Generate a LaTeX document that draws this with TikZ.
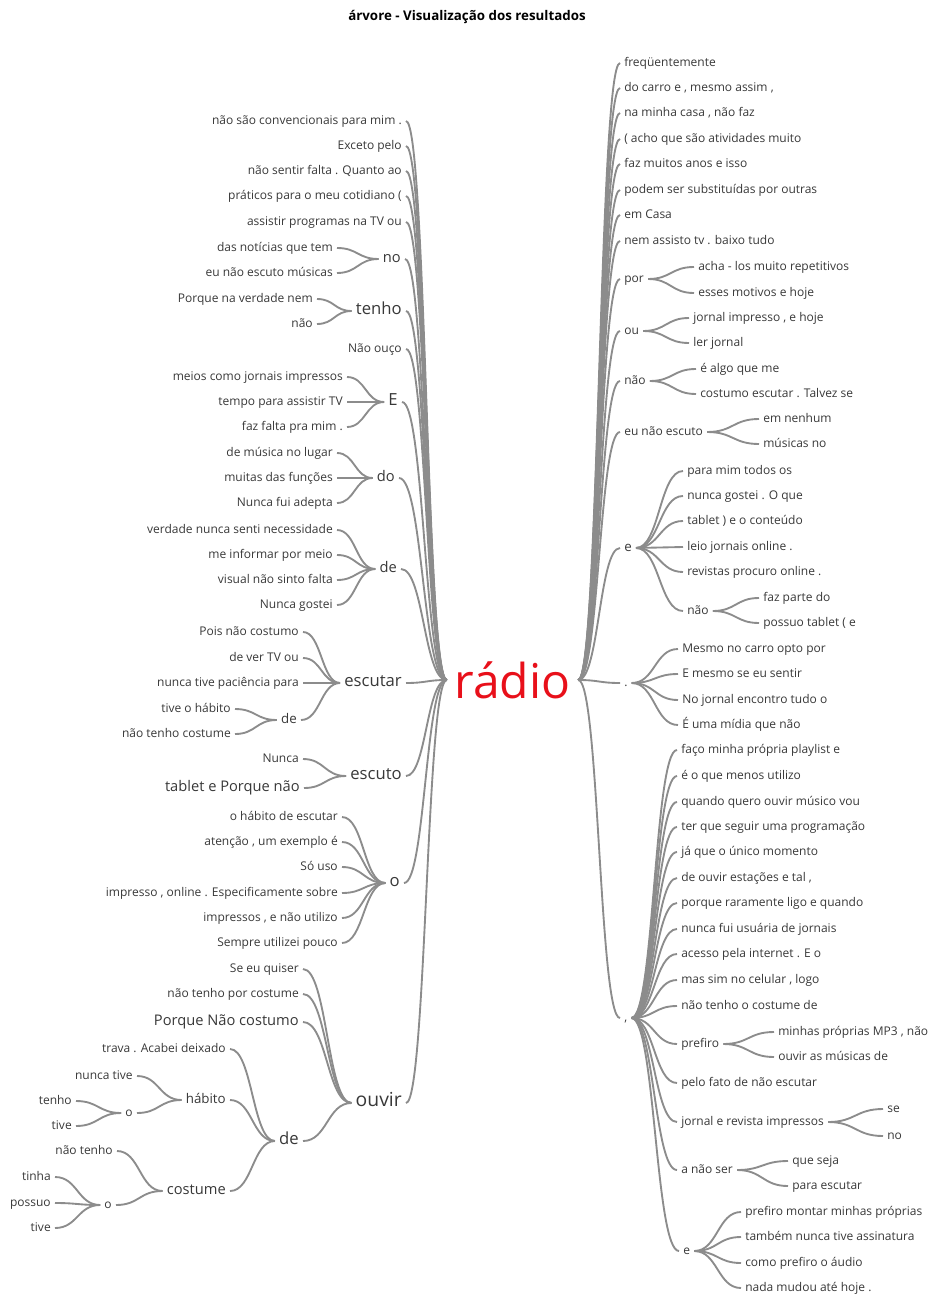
\documentclass[tikz,border=0pt]{standalone}
\usepackage{fontspec}
\setmainfont{Open Sans}
\usepackage{tikz}
\usetikzlibrary{calc}

\definecolor{wordgray}{HTML}{383838}
\definecolor{twiggray}{HTML}{8C8C8C}
\definecolor{rootred}{HTML}{E8101A}

\tikzset{
  wordL/.style={anchor=mid east, inner xsep=3pt, inner ysep=1pt,
    text=wordgray, font=\fontsize{9}{10}\selectfont},
  wordR/.style={anchor=mid west, inner xsep=3pt, inner ysep=1pt,
    text=wordgray, font=\fontsize{9}{10}\selectfont},
  size1/.style={font=\fontsize{10}{12}\selectfont},
  size2/.style={font=\fontsize{11}{13}\selectfont},
  size3/.style={font=\fontsize{12.5}{15}\selectfont},
  size4/.style={font=\fontsize{14.5}{17}\selectfont},
  rootword/.style={inner sep=0pt, minimum width=98.25pt, text=rootred,
    font=\fontsize{36}{40}\selectfont},
  branch/.style={draw=twiggray, line width=1.4pt},
}
% curve from one word to the next, flat at both ends
\newcommand{\twig}[2]{\draw[branch] let \p1=(#1), \p2=(#2) in
  (\p1) .. controls ({(\x1+\x2)/2},\y1) and ({(\x1+\x2)/2},\y2) .. (\p2);}

\begin{document}
\begin{tikzpicture}[x=0.75pt, y=-0.75pt]
  \useasboundingbox (0,0) rectangle (928,1295);

  % === Title and root ===
  \node[font=\bfseries\fontsize{10}{12}\selectfont] (title) at (467,17)
    {árvore - Visualização dos resultados};
  \node[rootword] (root) at (512.5,680) {rádio};

  % === Left side, first level ===
  \foreach \t/\y [count=\i] in {não são convencionais para mim ./121, Exceto pelo/146,
      não sentir falta . Quanto ao/171, {práticos para o meu cotidiano (}/196,
      assistir programas na TV ou/222, Não ouço/349} {
    \node[wordL] (l\i) at (406,\y) {\t};
    \twig{root.west}{l\i.mid east}
  }
  \node[wordL, size2] (lno) at (405,259) {no};
  \node[wordL, size3] (ltenho) at (406,311) {tenho};
  \node[wordL, size3] (lE) at (402,402) {E};
  \node[wordL, size2] (ldo) at (399,478) {do};
  \node[wordL, size2] (lde) at (401,569) {de};
  \node[wordL, size3] (lescutar) at (406,683) {escutar};
  \node[wordL, size3] (lescuto) at (406,776) {escuto};
  \node[wordL, size3] (lo) at (404,883) {o};
  \node[wordL, size4] (louvir) at (406,1103) {ouvir};
  \foreach \w in {lno, ltenho, lE, ldo, lde, lescutar, lescuto, lo, louvir}
    \twig{root.west}{\w.mid east};

  % === Left side, second level ===
  \foreach \t/\y [count=\i] in {das notícias que tem/248, eu não escuto músicas/273} {
    \node[wordL] (lno\i) at (337,\y) {\t};
    \twig{lno.mid west}{lno\i.mid east}
  }
  \foreach \t/\y [count=\i] in {Porque na verdade nem/299, não/324} {
    \node[wordL] (ltenho\i) at (317,\y) {\t};
    \twig{ltenho.mid west}{ltenho\i.mid east}
  }
  \foreach \t/\y [count=\i] in {meios como jornais impressos/377,
      tempo para assistir TV/402, faz falta pra mim ./427} {
    \node[wordL] (lE\i) at (347,\y) {\t};
    \twig{lE.mid west}{lE\i.mid east}
  }
  \foreach \t/\y [count=\i] in {de música no lugar/453, muitas das funções/478,
      Nunca fui adepta/503} {
    \node[wordL] (ldo\i) at (337,\y) {\t};
    \twig{ldo.mid west}{ldo\i.mid east}
  }
  \foreach \t/\y [count=\i] in {verdade nunca senti necessidade/530,
      me informar por meio/555, visual não sinto falta/580, Nunca gostei/605} {
    \node[wordL] (lde\i) at (337,\y) {\t};
    \twig{lde.mid west}{lde\i.mid east}
  }
  \foreach \t/\y [count=\i] in {Pois não costumo/632, de ver TV ou/658,
      nunca tive paciência para/683} {
    \node[wordL] (lescutar\i) at (303,\y) {\t};
    \twig{lescutar.mid west}{lescutar\i.mid east}
  }
  \node[wordL, size1] (lescde) at (301,720) {de};
  \twig{lescutar.mid west}{lescde.mid east}
  \foreach \t/\y [count=\i] in {tive o hábito/709, não tenho costume/734} {
    \node[wordL] (lescde\i) at (235,\y) {\t};
    \twig{lescde.mid west}{lescde\i.mid east}
  }
  \node[wordL] (lescuto1) at (303,759) {Nunca};
  \node[wordL, size2] (lescuto2) at (304,788) {tablet e Porque não};
  \twig{lescuto.mid west}{lescuto1.mid east}
  \twig{lescuto.mid west}{lescuto2.mid east}
  \foreach \t/\y [count=\i] in {o hábito de escutar/817, {atenção , um exemplo é}/842,
      Só uso/867, {impresso , online . Especificamente sobre}/893,
      {impressos , e não utilizo}/918, Sempre utilizei pouco/943} {
    \node[wordL] (lo\i) at (342,\y) {\t};
    \twig{lo.mid west}{lo\i.mid east}
  }

  % === Left side, under ouvir ===
  \node[wordL] (louvir1) at (303,969) {Se eu quiser};
  \node[wordL] (louvir2) at (303,994) {não tenho por costume};
  \node[wordL, size2] (louvir3) at (303,1022) {Porque Não costumo};
  \node[wordL, size3] (loude) at (303,1141) {de};
  \foreach \w in {louvir1, louvir2, louvir3, loude}
    \twig{louvir.mid west}{\w.mid east};
  \node[wordL] (loude1) at (230,1049) {trava . Acabei deixado};
  \node[wordL, size1] (lhab) at (230,1100) {hábito};
  \node[wordL, size2] (lcost) at (230,1191) {costume};
  \foreach \w in {loude1, lhab, lcost}
    \twig{loude.mid west}{\w.mid east};
  \node[wordL] (lhab1) at (137,1076) {nunca tive};
  \node[wordL] (lhabo) at (137,1113) {o};
  \twig{lhab.mid west}{lhab1.mid east}
  \twig{lhab.mid west}{lhabo.mid east}
  \foreach \t/\y [count=\i] in {tenho/1101, tive/1126} {
    \node[wordL] (lhabo\i) at (76,\y) {\t};
    \twig{lhabo.mid west}{lhabo\i.mid east}
  }
  \node[wordL] (lcost1) at (117,1151) {não tenho};
  \node[wordL] (lcosto) at (116,1205) {o};
  \twig{lcost.mid west}{lcost1.mid east}
  \twig{lcost.mid west}{lcosto.mid east}
  \foreach \t/\y [count=\i] in {tinha/1177, possuo/1203, tive/1228} {
    \node[wordL] (lcosto\i) at (55,\y) {\t};
    \twig{lcosto.mid west}{lcosto\i.mid east}
  }

  % === Right side, first level ===
  \foreach \t/\y [count=\i] in {freqüentemente/63, {do carro e , mesmo assim ,}/88,
      {na minha casa , não faz}/113, {( acho que são atividades muito}/139,
      faz muitos anos e isso/164, podem ser substituídas por outras/190,
      em Casa/215, nem assisto tv . baixo tudo/241} {
    \node[wordR] (r\i) at (620,\y) {\t};
    \twig{root.east}{r\i.mid west}
  }
  \node[wordR] (rpor) at (620,279) {por};
  \node[wordR] (rou) at (620,331) {ou};
  \node[wordR] (rnao) at (620,381) {não};
  \node[wordR] (reune) at (620,432) {eu não escuto};
  \node[wordR, size1] (re) at (620,548) {e};
  \node[wordR] (rdot) at (620,683) {.};
  \node[wordR] (rcomma) at (620,1018) {,};
  \foreach \w in {rpor, rou, rnao, reune, re, rdot, rcomma}
    \twig{root.east}{\w.mid west};

  % === Right side, second level ===
  \foreach \t/\y [count=\i] in {acha - los muito repetitivos/267, esses motivos e hoje/293} {
    \node[wordR] (rpor\i) at (694,\y) {\t};
    \twig{rpor.mid east}{rpor\i.mid west}
  }
  \foreach \t/\y [count=\i] in {{jornal impresso , e hoje}/318, ler jornal/343} {
    \node[wordR] (rou\i) at (689,\y) {\t};
    \twig{rou.mid east}{rou\i.mid west}
  }
  \foreach \t/\y [count=\i] in {é algo que me/369, costumo escutar . Talvez se/394} {
    \node[wordR] (rnao\i) at (696,\y) {\t};
    \twig{rnao.mid east}{rnao\i.mid west}
  }
  \foreach \t/\y [count=\i] in {em nenhum/419, músicas no/444} {
    \node[wordR] (reune\i) at (759,\y) {\t};
    \twig{reune.mid east}{reune\i.mid west}
  }
  \foreach \t/\y [count=\i] in {para mim todos os/471, nunca gostei . O que/496,
      {tablet ) e o conteúdo}/521, leio jornais online ./547, revistas procuro online ./572} {
    \node[wordR] (re\i) at (683,\y) {\t};
    \twig{re.mid east}{re\i.mid west}
  }
  \node[wordR] (renao) at (683,611) {não};
  \twig{re.mid east}{renao.mid west}
  \foreach \t/\y [count=\i] in {faz parte do/598, {possuo tablet ( e}/623} {
    \node[wordR] (renao\i) at (759,\y) {\t};
    \twig{renao.mid east}{renao\i.mid west}
  }
  \foreach \t/\y [count=\i] in {Mesmo no carro opto por/649, E mesmo se eu sentir/674,
      No jornal encontro tudo o/700, É uma mídia que não/725} {
    \node[wordR] (rdot\i) at (678,\y) {\t};
    \twig{rdot.mid east}{rdot\i.mid west}
  }

  % === Right side, under the comma ===
  \foreach \t/\y [count=\i] in {faço minha própria playlist e/750, é o que menos utilizo/776,
      quando quero ouvir músico vou/802, ter que seguir uma programação/827,
      já que o único momento/852, {de ouvir estações e tal ,}/878,
      porque raramente ligo e quando/903, nunca fui usuária de jornais/929,
      acesso pela internet . E o/954, {mas sim no celular , logo}/980,
      não tenho o costume de/1006, pelo fato de não escutar/1083} {
    \node[wordR] (rcomma\i) at (677,\y) {\t};
    \twig{rcomma.mid east}{rcomma\i.mid west}
  }
  \node[wordR] (rpref) at (677,1044) {prefiro};
  \node[wordR] (rjornal) at (677,1122) {jornal e revista impressos};
  \node[wordR] (rnaoser) at (677,1170) {a não ser};
  \node[wordR] (re2) at (679,1251) {e};
  \foreach \w in {rpref, rjornal, rnaoser, re2}
    \twig{rcomma.mid east}{\w.mid west};
  \foreach \t/\y [count=\i] in {{minhas próprias MP3 , não}/1032, ouvir as músicas de/1057} {
    \node[wordR] (rpref\i) at (774,\y) {\t};
    \twig{rpref.mid east}{rpref\i.mid west}
  }
  \foreach \t/\y [count=\i] in {se/1109, no/1136} {
    \node[wordR] (rjornal\i) at (883,\y) {\t};
    \twig{rjornal.mid east}{rjornal\i.mid west}
  }
  \foreach \t/\y [count=\i] in {que seja/1161, para escutar/1186} {
    \node[wordR] (rnaoser\i) at (788,\y) {\t};
    \twig{rnaoser.mid east}{rnaoser\i.mid west}
  }
  \foreach \t/\y [count=\i] in {prefiro montar minhas próprias/1212,
      também nunca tive assinatura/1237, como prefiro o áudio/1263, nada mudou até hoje ./1288} {
    \node[wordR] (rtwoe\i) at (741,\y) {\t};
    \twig{re2.mid east}{rtwoe\i.mid west}
  }
\end{tikzpicture}
\end{document}
